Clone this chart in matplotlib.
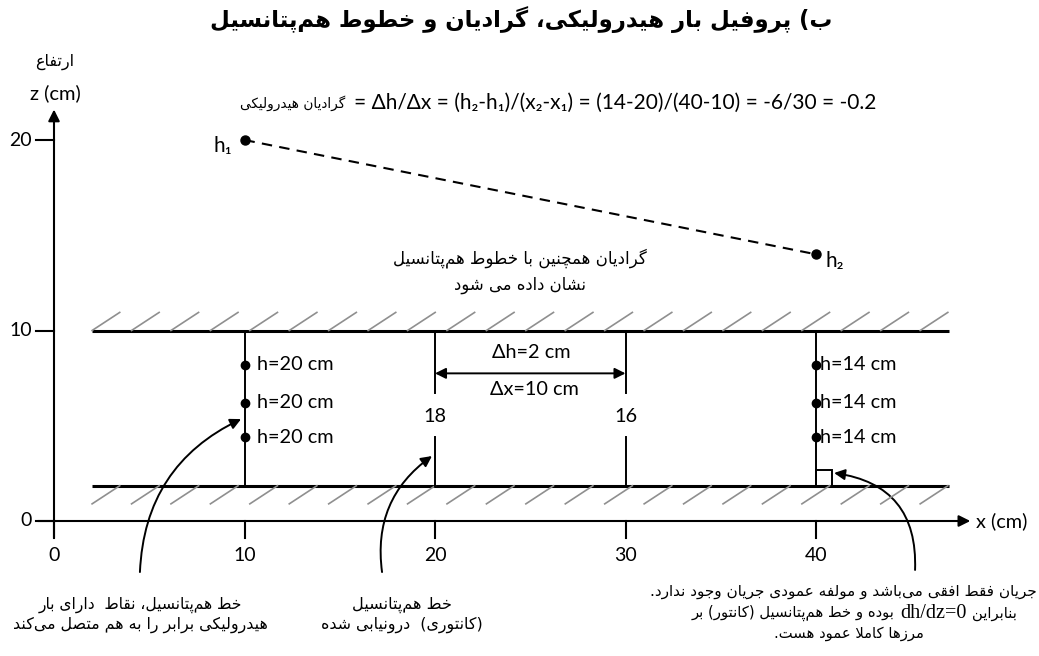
import numpy as np
import matplotlib
matplotlib.use("Agg")
import matplotlib.pyplot as plt
from matplotlib.patches import FancyArrowPatch, Rectangle

# ---------------------------------------------------------------- data
x_ticks = [0, 10, 20, 30, 40]
z_ticks = [0, 10, 20]
head_x = [10, 40]          # x1, x2 (cm)
head_h = [20, 14]          # h1, h2 (cm)
equip_x = [10, 20, 30, 40]
equip_h = [20, 18, 16, 14]
point_z = [8.2, 6.2, 4.4]  # observation points on the outer equipotentials

# ---------------------------------------------------------------- Persian text helpers
_FORMS = {  # isolated, final, initial, medial
    '\u0627': ('\uFE8D', '\uFE8E'),
    '\u0628': ('\uFE8F', '\uFE90', '\uFE91', '\uFE92'),
    '\u067E': ('\uFB56', '\uFB57', '\uFB58', '\uFB59'),
    '\u062A': ('\uFE95', '\uFE96', '\uFE97', '\uFE98'),
    '\u062C': ('\uFE9D', '\uFE9E', '\uFE9F', '\uFEA0'),
    '\u0686': ('\uFB7A', '\uFB7B', '\uFB7C', '\uFB7D'),
    '\u062E': ('\uFEA5', '\uFEA6', '\uFEA7', '\uFEA8'),
    '\u062F': ('\uFEA9', '\uFEAA'),
    '\u0631': ('\uFEAD', '\uFEAE'),
    '\u0632': ('\uFEAF', '\uFEB0'),
    '\u0633': ('\uFEB1', '\uFEB2', '\uFEB3', '\uFEB4'),
    '\u0634': ('\uFEB5', '\uFEB6', '\uFEB7', '\uFEB8'),
    '\u0635': ('\uFEB9', '\uFEBA', '\uFEBB', '\uFEBC'),
    '\u0637': ('\uFEC1', '\uFEC2', '\uFEC3', '\uFEC4'),
    '\u0639': ('\uFEC9', '\uFECA', '\uFECB', '\uFECC'),
    '\u0641': ('\uFED1', '\uFED2', '\uFED3', '\uFED4'),
    '\u0642': ('\uFED5', '\uFED6', '\uFED7', '\uFED8'),
    '\u06A9': ('\uFB8E', '\uFB8F', '\uFB90', '\uFB91'),
    '\u06AF': ('\uFB92', '\uFB93', '\uFB94', '\uFB95'),
    '\u0644': ('\uFEDD', '\uFEDE', '\uFEDF', '\uFEE0'),
    '\u0645': ('\uFEE1', '\uFEE2', '\uFEE3', '\uFEE4'),
    '\u0646': ('\uFEE5', '\uFEE6', '\uFEE7', '\uFEE8'),
    '\u0647': ('\uFEE9', '\uFEEA', '\uFEEB', '\uFEEC'),
    '\u0648': ('\uFEED', '\uFEEE'),
    '\u06CC': ('\uFBFC', '\uFBFD', '\uFBFE', '\uFBFF'),
}
_MIRROR = {'(': ')', ')': '('}


def _joins_next(c):
    return c in _FORMS and len(_FORMS[c]) == 4


def _shape(text):
    out, i, n = [], 0, len(text)
    while i < n:
        c = text[i]
        if c not in _FORMS:
            out.append(c)
            i += 1
            continue
        linked_prev = i > 0 and _joins_next(text[i - 1])
        if c == '\u0644' and i + 1 < n and text[i + 1] == '\u0627':
            out.append('\uFEFC' if linked_prev else '\uFEFB')
            i += 2
            continue
        forms = _FORMS[c]
        linked_next = len(forms) == 4 and i + 1 < n and text[i + 1] in _FORMS
        if linked_prev and linked_next:
            out.append(forms[3])
        elif linked_prev:
            out.append(forms[1])
        elif linked_next:
            out.append(forms[2])
        else:
            out.append(forms[0])
        i += 1
    return ''.join(out).replace('\u200c', '')


def _dir(c):
    o = ord(c)
    if c == '\u060C':
        return 'N'
    if 0x0620 <= o <= 0x06FF or 0xFB50 <= o <= 0xFDFF or 0xFE70 <= o <= 0xFEFF:
        return 'R'
    if c.isalnum():
        return 'L'
    return 'N'


def fa(text, base='R'):
    s = _shape(text)
    types = [_dir(c) for c in s]
    res = types[:]
    n, i = len(s), 0
    while i < n:
        if types[i] != 'N':
            i += 1
            continue
        j = i
        while j < n and types[j] == 'N':
            j += 1
        before = res[i - 1] if i > 0 else base
        after = types[j] if j < n else base
        d = before if before == after else base
        for k in range(i, j):
            res[k] = d
        i = j
    runs = []
    for ch, d in zip(s, res):
        if runs and runs[-1][0] == d:
            runs[-1][1].append(ch)
        else:
            runs.append([d, [ch]])
    pieces = []
    for d, chars in runs:
        if d == 'R':
            pieces.append(''.join(_MIRROR.get(c, c) for c in reversed(chars)))
        else:
            pieces.append(''.join(chars))
    if base == 'R':
        pieces.reverse()
    return ''.join(pieces)


# ---------------------------------------------------------------- figure
plt.rcParams['font.family'] = ['Lato', 'DejaVu Sans']
FA = ['DejaVu Sans']
LAT = ['Lato', 'DejaVu Sans']
SERIF = ['Liberation Serif', 'DejaVu Serif']

PX = 19.05  # pixels per cm
fig = plt.figure(figsize=(10.39, 6.56), dpi=100)
ax = fig.add_axes([0, 0, 1, 1])
ax.set_xlim(-54 / PX, (1039 - 54) / PX)
ax.set_ylim(-(656 - 521) / PX, 521 / PX)
ax.axis('off')
renderer = fig.canvas.get_renderer()

K = 'black'
LS = 14.3  # Latin label size


def rtl_line(xc, z, segments, gap=0.28):
    """Draw one right-to-left line built from (text, family, size) segments
    given in logical order, centred on xc."""
    arts, widths = [], []
    for txt, fam, size in reversed(segments):
        t = ax.text(0, z, txt, ha='left', va='center', fontsize=size, family=fam)
        arts.append(t)
        widths.append(t.get_window_extent(renderer).width / PX)
    total = sum(widths) + gap * (len(widths) - 1)
    x = xc - total / 2
    for t, w in zip(arts, widths):
        t.set_x(x)
        x += w + gap


# axes with arrows
ax.annotate('', xy=(48.1, 0), xytext=(-0.85, 0),
            arrowprops=dict(arrowstyle='-|>', lw=1.5, color=K, mutation_scale=17,
                            shrinkA=0, shrinkB=0))
ax.annotate('', xy=(0, 21.6), xytext=(0, -0.88),
            arrowprops=dict(arrowstyle='-|>', lw=1.5, color=K, mutation_scale=17,
                            shrinkA=0, shrinkB=0))
for xt in x_ticks:
    ax.plot([xt, xt], [0, -0.88], color=K, lw=1.5)
    ax.text(xt, -1.8, f'{xt}', ha='center', va='center', fontsize=14, family=LAT)
for zt in z_ticks:
    ax.plot([0, -0.92], [zt, zt], color=K, lw=1.5)
    ax.text(-1.15, zt, f'{zt}', ha='right', va='center', fontsize=14, family=LAT)
ax.text(48.4, 0, 'x (cm)', ha='left', va='center', fontsize=LS, family=LAT)
ax.text(0.05, 22.45, 'z (cm)', ha='center', va='center', fontsize=14.5, family=LAT)
ax.text(0.05, 24.1, fa('ارتفاع'), ha='center', va='center', fontsize=11.5, family=FA)

# title
ax.text(24.5, 26.3, fa('ب) پروفیل بار هیدرولیکی، گرادیان و خطوط هم‌پتانسیل'),
        ha='center', va='center', fontsize=16.4, fontweight='bold', family=FA)

# aquifer boundaries with hatching
top_z, bot_z, x_left, x_right = 10, 1.85, 2.0, 47.0
ax.plot([x_left, x_right], [top_z, top_z], color=K, lw=2.2, solid_capstyle='butt')
ax.plot([x_left, x_right], [bot_z, bot_z], color=K, lw=2.2, solid_capstyle='butt')
for x0 in np.arange(x_left, x_right - 1.0, 2.07):
    ax.plot([x0, x0 + 1.45], [top_z, top_z + 0.95], color='#8f8f8f', lw=1.2)
    ax.plot([x0, x0 + 1.45], [bot_z - 0.95, bot_z], color='#8f8f8f', lw=1.2)

# hydraulic gradient between the two heads
ax.plot(head_x, head_h, color=K, lw=1.5, ls=(0, (5, 3.5)))
ax.plot(head_x, head_h, 'o', color=K, ms=6.5)
ax.text(head_x[0] - 0.65, head_h[0] - 0.3, 'h\u2081', ha='right', va='center',
        fontsize=15, family=LAT)
ax.text(head_x[1] + 0.5, head_h[1] - 0.35, 'h\u2082', ha='left', va='center',
        fontsize=15, family=LAT)

h1, h2 = head_h
x1, x2 = head_x
grad = (h2 - h1) / (x2 - x1)
ax.text(15.3, 21.95, fa('گرادیان هیدرولیکی'), ha='right', va='center',
        fontsize=9.8, family=FA)
ax.text(15.75, 21.95,
        f'= \u0394h/\u0394x = (h\u2082-h\u2081)/(x\u2082-x\u2081) = ({h2}-{h1})/({x2}-{x1})'
        f' = {h2 - h1}/{x2 - x1} = {grad:.1f}',
        ha='left', va='center', fontsize=15, family=LAT)

ax.text(24.45, 13.8, fa('گرادیان همچنین با خطوط هم‌پتانسیل'), ha='center',
        va='center', fontsize=12, family=FA)
ax.text(24.45, 12.4, fa('نشان داده می شود'), ha='center', va='center',
        fontsize=11.9, family=FA)

# equipotential lines
for xe, he in zip(equip_x, equip_h):
    if xe in head_x:
        ax.plot([xe, xe], [bot_z, top_z], color=K, lw=1.4)
        ax.plot([xe] * len(point_z), point_z, 'o', color=K, ms=6)
        for pz in point_z:
            ax.text(xe + (0.65 if xe == head_x[0] else 0.2), pz, f'h={he} cm',
                    ha='left', va='center', fontsize=LS, family=LAT)
    else:
        ax.plot([xe, xe], [6.7, top_z], color=K, lw=1.4)
        ax.plot([xe, xe], [bot_z, 4.42], color=K, lw=1.4)
        ax.text(xe, 5.47, f'{he}', ha='center', va='center', fontsize=LS, family=LAT)

# head drop between the interpolated contours
ax.annotate('', xy=(equip_x[2], 7.75), xytext=(equip_x[1], 7.75),
            arrowprops=dict(arrowstyle='<|-|>', lw=1.4, color=K, mutation_scale=16,
                            shrinkA=0, shrinkB=0))
ax.text(25.05, 8.85, f'\u0394h={equip_h[1] - equip_h[2]} cm', ha='center', va='center',
        fontsize=LS, family=LAT)
ax.text(25.2, 6.88, f'\u0394x={equip_x[2] - equip_x[1]} cm', ha='center', va='center',
        fontsize=LS, family=LAT)

# right angle where the contour meets the base
ax.add_patch(Rectangle((40, bot_z), 0.85, 0.85, fill=False, ec=K, lw=1.4))

# curved leaders
for pa, pb, rad in [((4.51, -2.68), (9.82, 5.35), -0.3),
                    ((17.22, -2.68), (19.84, 3.41), -0.3),
                    ((45.2, -2.57), (40.95, 2.52), 0.45)]:
    ax.add_patch(FancyArrowPatch(pa, pb, connectionstyle=f'arc3,rad={rad}',
                                 arrowstyle='-|>', mutation_scale=16, lw=1.4,
                                 color=K, shrinkA=0, shrinkB=0))

# explanatory notes
notes = [
    (4.55, [-4.41, -5.46], [11.2, 11.4], ['خط هم‌پتانسیل، نقاط  دارای بار',
                                          'هیدرولیکی برابر را به هم متصل می‌کند']),
    (18.25, [-4.41, -5.46], [11.6, 11.4], ['خط هم‌پتانسیل', '(کانتوری)  درونیابی شده']),
]
for xc, zs, sizes, lines in notes:
    for zl, size, line in zip(zs, sizes, lines):
        ax.text(xc, zl, fa(line), ha='center', va='center', fontsize=size, family=FA)

ax.text(41.45, -3.71, fa('جریان فقط افقی می‌باشد و مولفه عمودی جریان وجود ندارد.'),
        ha='center', va='center', fontsize=11, family=FA)
rtl_line(42.0, -4.83, [(fa('بنابراین'), FA, 10.6),
                       ('dh/dz=0', SERIF, 14.5),
                       (fa('بوده و خط هم‌پتانسیل (کانتور) بر'), FA, 10.6)])
ax.text(41.75, -5.9, fa('مرزها کاملا عمود هست.'), ha='center', va='center',
        fontsize=10.6, family=FA)

fig.savefig('out.png', dpi=100)
